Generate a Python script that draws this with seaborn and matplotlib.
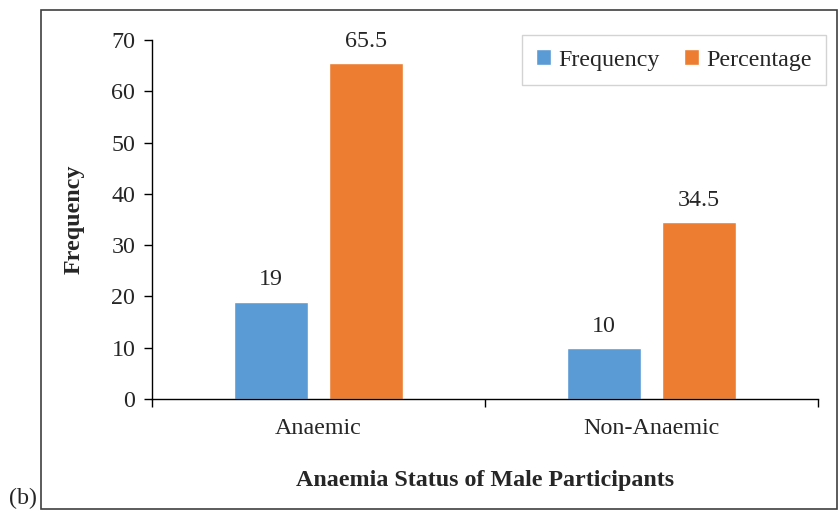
import matplotlib
matplotlib.use("Agg")
import matplotlib.pyplot as plt
import matplotlib.patches as mpatches
import seaborn as sns
import pandas as pd

categories = ["Anaemic", "Non-Anaemic"]
frequency = [19, 10]
percentage = [65.5, 34.5]
series_names = ["Frequency", "Percentage"]
yticks = [0, 10, 20, 30, 40, 50, 60, 70]

df = pd.DataFrame({
    "status": categories * 2,
    "series": [series_names[0]] * len(categories) + [series_names[1]] * len(categories),
    "value": frequency + percentage,
})

sns.set_style("white")
plt.rcParams["font.family"] = ["Liberation Serif", "DejaVu Serif"]

FS = 17.3
W, H = 838, 513
fig = plt.figure(figsize=(W / 100, H / 100), dpi=100)
ax = fig.add_axes([152 / W, (H - 399) / H, (818 - 152) / W, (399 - 40) / H])

sns.barplot(data=df, x="status", y="value", hue="series", order=categories,
            hue_order=series_names, palette=["#5B9BD5", "#ED7D31"],
            width=0.57, gap=0.22, ax=ax, legend=True, saturation=1)

for cont in ax.containers:
    ax.bar_label(cont, labels=[f"{v:g}" for v in cont.datavalues], padding=8, fontsize=FS)

ax.set_ylim(0, 70)
ax.set_xlim(-0.5, 1.5)
ax.set_yticks(yticks)
ax.tick_params(axis="y", labelsize=FS, length=6, width=1, color="black", direction="out", left=True, pad=6)
ax.set_xticks([0, 1])
ax.set_xticks([-0.5, 0.5, 1.5], minor=True)
ax.tick_params(axis="x", which="major", length=0, labelsize=FS, pad=14)
ax.tick_params(axis="x", which="minor", length=6, width=1, color="black", direction="out", bottom=True)
for s in ["top", "right"]:
    ax.spines[s].set_visible(False)
for s in ["left", "bottom"]:
    ax.spines[s].set_color("black")
    ax.spines[s].set_linewidth(1)

ax.set_xlabel("Anaemia Status of Male Participants", fontsize=FS, fontweight="bold", labelpad=22)
ax.set_ylabel("Frequency", fontsize=FS, fontweight="bold", labelpad=19)

leg = ax.legend(loc="upper right", bbox_to_anchor=((826 - 152) / (818 - 152), (399 - 35) / (399 - 40)),
                borderaxespad=0, ncol=2, fontsize=FS, frameon=True, fancybox=False, handlelength=0.6,
                handleheight=0.6, handletextpad=0.3, columnspacing=1.05, borderpad=0.6,
                title=None)
leg.get_frame().set_edgecolor("#C8C8C8")
leg.get_frame().set_linewidth(1)

border = mpatches.Rectangle((41 / W, (H - 509) / H), (837 - 41) / W, (509 - 10) / H,
                            transform=fig.transFigure, fill=False, edgecolor="#404040", lw=1.2)
fig.patches.append(border)
fig.text(9 / W, (H - 498) / H, "(b)", fontsize=FS, va="center", ha="left")

fig.savefig("out.png", dpi=100)
